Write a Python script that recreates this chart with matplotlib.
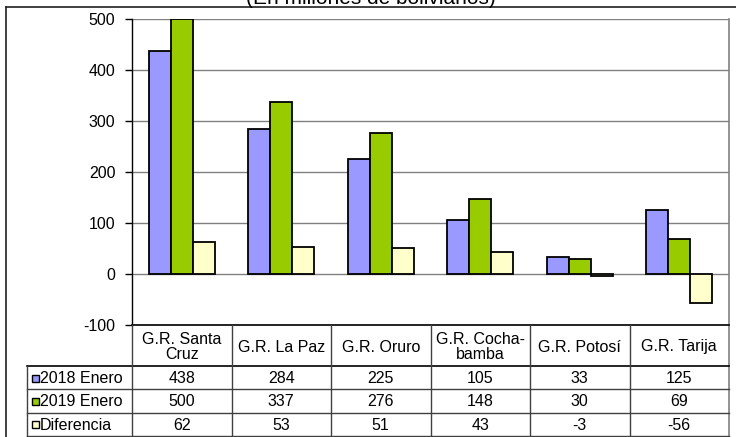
import matplotlib
matplotlib.use("Agg")
import matplotlib.pyplot as plt
from matplotlib.patches import Rectangle
import numpy as np

plt.rcParams['font.family'] = ['Liberation Sans', 'DejaVu Sans']
plt.rcParams['axes.unicode_minus'] = False

# datos
regiones = ["G.R. Santa\nCruz", "G.R. La Paz", "G.R. Oruro",
            "G.R. Cocha-\nbamba", "G.R. Potosí", "G.R. Tarija"]
series = ["2018 Enero", "2019 Enero", "Diferencia"]
enero_2018 = [438, 284, 225, 105, 33, 125]
enero_2019 = [500, 337, 276, 148, 30, 69]
diferencia = [62, 53, 51, 43, -3, -56]
titulo = "(En millones de bolivianos)"

valores = [enero_2018, enero_2019, diferencia]
colores = ["#9999FF", "#99CC00", "#FFFFCC"]

W, H = 736, 437
fig = plt.figure(figsize=(W / 100, H / 100), dpi=100)

# area del grafico, en pixeles
x0, x1, y0, y1 = 132, 729, 19, 325
ax = fig.add_axes([x0 / W, 1 - y1 / H, (x1 - x0) / W, (y1 - y0) / H])

n = len(regiones)
x = np.arange(n)
ancho = 0.222
for k, (vals, col) in enumerate(zip(valores, colores)):
    ax.bar(x + (k - 1) * ancho, vals, ancho, color=col, edgecolor='black',
           linewidth=1.3, zorder=3)

ax.set_xlim(-0.5, n - 0.5)
ax.set_ylim(-100, 500)
ax.set_yticks(range(-100, 501, 100))
ax.set_xticks([])
ax.yaxis.grid(True, color='#808080', linewidth=1.0)
ax.set_axisbelow(True)
ax.tick_params(axis='y', length=5, width=1, pad=7, labelsize=11.5, direction='out')
for s in ['top', 'right', 'bottom']:
    ax.spines[s].set_visible(False)
ax.spines['left'].set_linewidth(1.0)
ax.spines['left'].set_color('black')

# capa en pixeles para marco, titulo y tabla
ov = fig.add_axes([0, 0, 1, 1], zorder=5)
ov.set_xlim(0, W)
ov.set_ylim(H, 0)
ov.axis('off')

# marco exterior
ov.plot([6, W], [7, 7], color='#202020', lw=1.2)
ov.plot([6, 6], [7, H], color='#202020', lw=1.2)
ov.text(371, 3.5, titulo, ha='center', va='baseline', fontsize=15)

# borde derecho del area
ov.plot([x1, x1], [y0, 436], color='#808080', lw=1.2)

# tabla de datos
col_w = (x1 - x0) / n
bordes = [x0 + i * col_w for i in range(n + 1)]
filas = [325, 366, 389.3, 412.7, 436]
ov.plot([x0, x1], [325, 325], color='black', lw=1.2)
ov.plot([27, x1], [366, 366], color='black', lw=1.2)
for yy in filas[2:]:
    ov.plot([27, x1], [yy, yy], color='#404040', lw=1.0)
for xx in bordes[:-1]:
    ov.plot([xx, xx], [325, 436], color='#404040', lw=1.0)
ov.plot([27, 27], [366, 436], color='#404040', lw=1.0)

for i, reg in enumerate(regiones):
    cx = (bordes[i] + bordes[i + 1]) / 2
    ov.text(cx, (filas[0] + filas[1]) / 2 + 1.5, reg, ha='center', va='center',
            fontsize=11.5, linespacing=1.05)
    for k, vals in enumerate(valores):
        ov.text(cx, (filas[k + 1] + filas[k + 2]) / 2 + 1, str(vals[i]),
                ha='center', va='center', fontsize=11.5)

for k, (nom, col) in enumerate(zip(series, colores)):
    cy = (filas[k + 1] + filas[k + 2]) / 2
    ov.add_patch(Rectangle((32, cy - 3), 7, 7, facecolor=col,
                           edgecolor='black', lw=1.0))
    ov.text(40, cy + 1, nom, ha='left', va='center', fontsize=11.5)

fig.savefig('out.png', dpi=100)
